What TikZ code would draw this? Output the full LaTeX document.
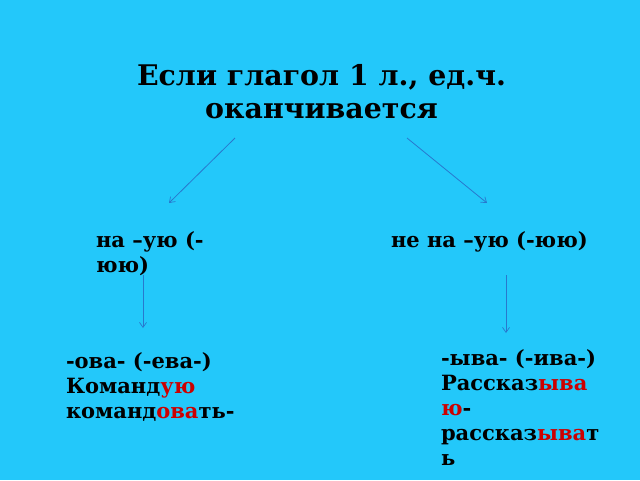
\documentclass[tikz,border=0pt]{standalone}
\usepackage{fontspec}
\setmainfont{DejaVu Serif}
\usetikzlibrary{arrows.meta}
\definecolor{bg}{RGB}{35,200,250}
\definecolor{arrc}{RGB}{40,120,205}
\definecolor{hl}{RGB}{204,0,0}
\tikzset{
  txt/.style={inner sep=0pt, outer sep=0pt, font=\bfseries\fontsize{21}{25}\selectfont, align=left, anchor=base west},
  ttl/.style={inner sep=0pt, outer sep=0pt, font=\bfseries\fontsize{28.4}{33}\selectfont, align=center, anchor=base},
  arr/.style={draw=arrc, line width=0.8pt, -{Straight Barb[length=5pt,width=7pt,line width=0.7pt]}}
}
\newcommand{\hlt}[1]{\textcolor{hl}{#1}}
\begin{document}
\begin{tikzpicture}[x=1pt,y=-1pt]
\fill[bg] (0,0) rectangle (640,480);
\useasboundingbox (0,0) rectangle (640,480);
\node[ttl] (title) at (321.5,118) {Если глагол 1 л., ед.ч.\\оканчивается};
\node[txt] (left) at (96,272) {на –ую (-\\юю)};
\node[txt] (right) at (391,247) {не на –ую (-юю)};
\node[txt] (lbot) at (66,418) {-ова- (-ева-)\\Команд\hlt{ую}\\команд\hlt{ова}ть-};
\node[txt] (rbot) at (441,465) {-ыва- (-ива-)\\Рассказ\hlt{ыва}\\\hlt{ю}-\\рассказ\hlt{ыва}т\\ь};
\coordinate (t1) at (235,138);
\coordinate (e1) at (169,203);
\coordinate (t2) at (407,138);
\coordinate (e2) at (487,203);
\coordinate (s3) at (143,275);
\coordinate (e3) at (143,328);
\coordinate (s4) at (506,275);
\coordinate (e4) at (506,333);
\draw[arr] (t1) -- (e1);
\draw[arr] (t2) -- (e2);
\draw[arr] (s3) -- (e3);
\draw[arr] (s4) -- (e4);
\end{tikzpicture}
\end{document}
